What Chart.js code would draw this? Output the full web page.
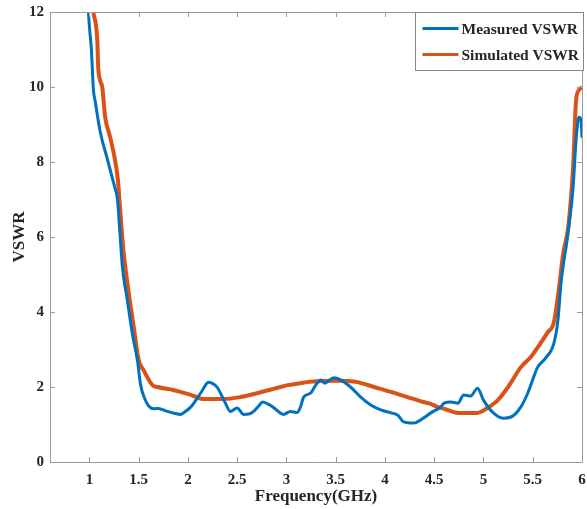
<!DOCTYPE html>
<html>
<head>
<meta charset="utf-8">
<script src="https://cdn.jsdelivr.net/npm/chart.js@4/dist/chart.umd.min.js"></script>
<style>
html,body{margin:0;padding:0;background:#fff;}
#wrap{width:587px;height:509px;position:relative;}
</style>
</head>
<body>
<div id="wrap"><canvas id="c" width="587" height="509"></canvas></div>
<script>
// ---- data ----
const measuredFreq = [0.99,1.00,1.02,1.04,1.06,1.11,1.18,1.24,1.26,1.285,1.31,1.335,1.386,1.437,1.488,1.52,1.56,1.60,1.65,1.70,1.79,1.86,1.925,1.96,2.03,2.13,2.21,2.26,2.30,2.38,2.43,2.50,2.565,2.62,2.667,2.72,2.758,2.81,2.87,2.97,3.04,3.11,3.14,3.175,3.246,3.297,3.35,3.39,3.42,3.48,3.55,3.65,3.754,3.856,3.957,4.06,4.13,4.19,4.29,4.39,4.465,4.567,4.60,4.67,4.74,4.80,4.87,4.94,5.0,5.1,5.2,5.28,5.38,5.45,5.51,5.55,5.63,5.715,5.756,5.787,5.858,5.91,5.94,5.97,5.99,6.0];
const measuredVSWR = [12.0,11.6,11.0,9.95,9.6,8.8,8.1,7.5,7.3,7.0,6.1,5.2,4.3,3.4,2.7,2.05,1.7,1.5,1.42,1.43,1.35,1.3,1.27,1.32,1.47,1.84,2.13,2.08,1.98,1.57,1.35,1.44,1.27,1.28,1.35,1.5,1.6,1.55,1.45,1.27,1.35,1.32,1.45,1.73,1.84,2.05,2.19,2.1,2.15,2.25,2.19,2.0,1.73,1.52,1.39,1.31,1.25,1.07,1.04,1.17,1.31,1.47,1.57,1.6,1.57,1.79,1.76,1.97,1.65,1.31,1.17,1.2,1.47,1.84,2.27,2.53,2.77,3.17,3.79,4.77,6.1,7.33,8.59,9.2,9.12,8.65];
const simulatedFreq = [1.04,1.08,1.09,1.13,1.16,1.21,1.26,1.29,1.31,1.345,1.40,1.45,1.50,1.55,1.64,1.69,1.85,1.925,2.03,2.16,2.36,2.53,2.71,2.87,3.01,3.14,3.21,3.38,3.5,3.62,3.72,3.89,4.06,4.23,4.39,4.465,4.53,4.60,4.74,4.94,5.04,5.146,5.25,5.38,5.48,5.58,5.65,5.715,5.76,5.81,5.86,5.91,5.94,5.97,6.0];
const simulatedVSWR = [12.0,11.25,10.5,10.0,9.2,8.67,8.05,7.5,6.8,5.65,4.5,3.6,2.72,2.45,2.05,2.0,1.92,1.87,1.79,1.68,1.68,1.73,1.84,1.95,2.05,2.1,2.13,2.16,2.17,2.16,2.13,2.0,1.87,1.73,1.6,1.55,1.47,1.42,1.31,1.31,1.44,1.65,2.0,2.53,2.8,3.17,3.45,3.73,4.5,5.57,6.27,7.87,9.65,9.92,10.0];
const seriesLabels = ['Measured VSWR','Simulated VSWR'];
const xTicks = [1,1.5,2,2.5,3,3.5,4,4.5,5,5.5,6];
const yTicks = [0,2,4,6,8,10,12];
const xTitle = 'Frequency(GHz)';
const yTitle = 'VSWR';

const BLUE = '#0072BD', ORANGE = '#D95319', AXIS = '#9a9a9a', TXT = '#262626';
const FONT = "'Liberation Serif','Times New Roman',serif";

const toXY = (xs, ys) => xs.map((x,i)=>({x, y: ys[i]}));

const frame = {
  id: 'frame',
  afterDatasetsDraw(chart){
    const {ctx, chartArea:a, scales:{x,y}} = chart;
    ctx.save();
    ctx.strokeStyle = AXIS; ctx.lineWidth = 1;
    ctx.beginPath();
    ctx.rect(Math.round(a.left)+0.5, Math.round(a.top)+0.5, Math.round(a.right-a.left), Math.round(a.bottom-a.top));
    const L = 5;
    xTicks.forEach(v=>{
      const px = Math.round(x.getPixelForValue(v))+0.5;
      ctx.moveTo(px, a.bottom); ctx.lineTo(px, a.bottom-L);
      ctx.moveTo(px, a.top); ctx.lineTo(px, a.top+L);
    });
    yTicks.forEach(v=>{
      const py = Math.round(y.getPixelForValue(v))+0.5;
      ctx.moveTo(a.left, py); ctx.lineTo(a.left+L, py);
      ctx.moveTo(a.right, py); ctx.lineTo(a.right-L, py);
    });
    ctx.stroke();
    // legend
    const bx = 415.5, by = Math.round(a.top)+0.5, bw = 168, bh = 58;
    ctx.fillStyle = '#fff';
    ctx.fillRect(bx, by, bw, bh);
    ctx.strokeStyle = '#888';
    ctx.strokeRect(bx, by, bw, bh);
    ctx.font = "bold 15.5px " + FONT;
    ctx.textBaseline = 'middle';
    chart.data.datasets.forEach((ds,i)=>{
      const yy = by + 16 + i*26;
      ctx.strokeStyle = ds.borderColor; ctx.lineWidth = 3;
      ctx.beginPath(); ctx.moveTo(bx+7, yy); ctx.lineTo(bx+43, yy); ctx.stroke();
      ctx.fillStyle = TXT;
      ctx.fillText(ds.label, bx+46, yy+1);
    });
    ctx.restore();
  }
};

new Chart(document.getElementById('c'), {
  type: 'line',
  data: {
    datasets: [
      {label: seriesLabels[0], data: toXY(measuredFreq, measuredVSWR), borderColor: BLUE, borderWidth: 3, pointRadius: 0, cubicInterpolationMode: 'monotone', fill: false},
      {label: seriesLabels[1], data: toXY(simulatedFreq, simulatedVSWR), borderColor: ORANGE, borderWidth: 4, pointRadius: 0, cubicInterpolationMode: 'monotone', fill: false}
    ]
  },
  options: {
    responsive: false,
    animation: false,
    layout: {padding: {top: 12, right: 5, left: 0, bottom: 0}},
    plugins: {legend: {display: false}, tooltip: {enabled: false}},
    scales: {
      x: {
        type: 'linear', min: 0.6, max: 6,
        afterFit: s => { s.height = 47; s.paddingLeft = 0; s.paddingRight = 0; },
        afterBuildTicks: s => { s.ticks = xTicks.map(v=>({value:v})); },
        grid: {display: false, drawTicks: false},
        border: {display: false},
        ticks: {color: TXT, padding: 9, maxRotation: 0, autoSkip: false, font: {family: FONT, weight: 'bold', size: 15}, callback: v => String(v)},
        title: {display: true, text: xTitle, color: TXT, font: {family: FONT, weight: 'bold', size: 17}, padding: {top: 0, bottom: 2}}
      },
      y: {
        type: 'linear', min: 0, max: 12,
        afterFit: s => { s.width = 50; s.paddingTop = 0; s.paddingBottom = 0; },
        afterBuildTicks: s => { s.ticks = yTicks.map(v=>({value:v})); },
        grid: {display: false, drawTicks: false},
        border: {display: false},
        ticks: {color: TXT, padding: 6, font: {family: FONT, weight: 'bold', size: 15}, callback: v => String(v)},
        title: {display: true, text: yTitle, color: TXT, font: {family: FONT, weight: 'bold', size: 17}, padding: {top: 9, bottom: 0}}
      }
    }
  },
  plugins: [frame]
});
</script>
</body>
</html>
